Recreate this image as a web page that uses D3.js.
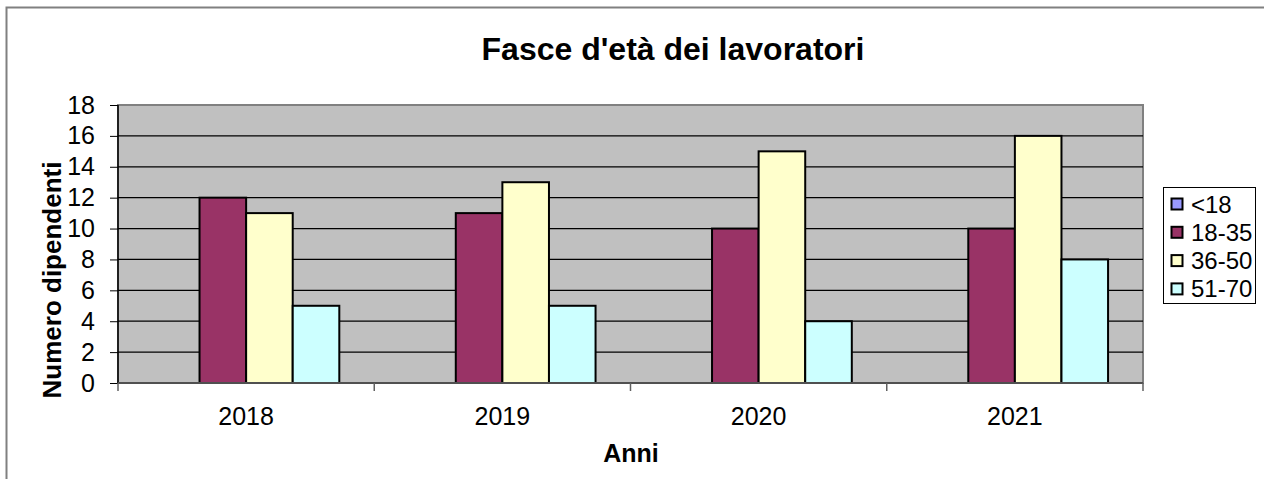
<!DOCTYPE html>
<html><head><meta charset="utf-8">
<script src="https://cdn.jsdelivr.net/npm/d3@7"></script>
<style>body{margin:0;background:#fff}svg{display:block;font-family:"Liberation Sans",Arial,sans-serif}</style>
</head><body><svg id="c" width="1264" height="479"></svg>
<script>
const years = ["2018","2019","2020","2021"];
const seriesNames = ["<18","18-35","36-50","51-70"];
const seriesColors = ["#9999FF","#993366","#FFFFCC","#CCFFFF"];
const valsU18 = [0,0,0,0];
const vals1835 = [12,11,10,10];
const vals3650 = [11,13,15,16];
const vals5170 = [5,5,4,8];
const yTicks = [0,2,4,6,8,10,12,14,16,18];
const seriesVals = [valsU18, vals1835, vals3650, vals5170];

const svg = d3.select("#c");
const L=118, R=1143, T=105, B=383;
const FF = "Liberation Sans, Arial, sans-serif";
// outer border
svg.append("rect").attr("x",6.5).attr("y",7.5).attr("width",1300).attr("height",600)
  .attr("fill","#fff").attr("stroke","#808080").attr("stroke-width",2);

const x0 = d3.scaleBand().domain(years).range([L,R]).paddingInner(0).paddingOuter(0);
const bw = x0.bandwidth()/(seriesNames.length+1.5);
const x1 = d3.scaleBand().domain(seriesNames).range([0, bw*seriesNames.length]);
const y = d3.scaleLinear().domain([0,18]).range([B,T]);

svg.append("rect").attr("x",L).attr("y",T).attr("width",R-L).attr("height",B-T)
  .attr("fill","#C0C0C0").attr("stroke","#808080").attr("stroke-width",2);

// gridlines
svg.append("g").selectAll("line").data(yTicks.filter(d=>d>0 && d<18)).join("line")
  .attr("x1",L).attr("x2",R).attr("y1",d=>y(d)).attr("y2",d=>y(d))
  .attr("stroke","#000").attr("stroke-width",1.2);

// bars
const groups = svg.append("g").selectAll("g").data(years).join("g")
  .attr("transform",d=>`translate(${x0(d)+bw*0.75},0)`);
groups.selectAll("rect").data((d,i)=>seriesNames.map((s,j)=>({s,j,v:seriesVals[j][i]})))
  .join("rect")
  .attr("x",d=>x1(d.s)).attr("width",x1.bandwidth())
  .attr("y",d=>y(d.v)).attr("height",d=>y(0)-y(d.v))
  .attr("fill",d=>seriesColors[d.j]).attr("stroke","#000").attr("stroke-width",2)
  .attr("display",d=>d.v>0?null:"none");

// y axis
const ya = svg.append("g").attr("transform",`translate(${L},0)`)
  .call(d3.axisLeft(y).tickValues(yTicks).tickSize(8).tickPadding(15).tickFormat(d3.format("d")));
ya.select(".domain").attr("stroke","#000").attr("stroke-width",1.5).attr("d",`M0,${T}V${B}`);
ya.selectAll(".tick line").attr("stroke","#000");
ya.selectAll("text").attr("font-size",25).attr("fill","#000").attr("font-family",FF);

// x axis
const xa = svg.append("g").attr("transform",`translate(0,${B})`)
  .call(d3.axisBottom(x0).tickSize(0).tickPadding(24));
xa.select(".domain").attr("stroke","#505050").attr("stroke-width",2).attr("d",`M${L},0H${R}`);
xa.selectAll("text").attr("font-size",25).attr("fill","#000").attr("font-family",FF);
svg.append("g").selectAll("line").data(d3.range(years.length+1)).join("line")
  .attr("x1",i=>L+i*x0.step()).attr("x2",i=>L+i*x0.step())
  .attr("y1",B).attr("y2",B+8).attr("stroke","#606060").attr("stroke-width",1.5);

// titles
svg.append("text").attr("x",673).attr("y",60).attr("text-anchor","middle")
  .attr("font-size",32).attr("font-weight","bold").text("Fasce d'età dei lavoratori");
svg.append("text").attr("x",631).attr("y",462).attr("text-anchor","middle")
  .attr("font-size",25).attr("font-weight","bold").text("Anni");
svg.append("text").attr("transform","translate(61,280) rotate(-90)").attr("text-anchor","middle")
  .attr("font-size",26).attr("font-weight","bold").text("Numero dipendenti");

// legend
const lg = svg.append("g");
lg.append("rect").attr("x",1163.5).attr("y",187.5).attr("width",92).attr("height",116)
  .attr("fill","#fff").attr("stroke","#000").attr("stroke-width",1);
const items = lg.selectAll("g").data(seriesNames).join("g")
  .attr("transform",(d,i)=>`translate(1171,${204+i*28.3})`);
items.append("rect").attr("x",0.5).attr("y",-5.5).attr("width",11).attr("height",11)
  .attr("fill",(d,i)=>seriesColors[i]).attr("stroke","#000").attr("stroke-width",2);
items.append("text").attr("x",20).attr("y",8.5).attr("font-size",24).text(d=>d);
</script></body></html>
